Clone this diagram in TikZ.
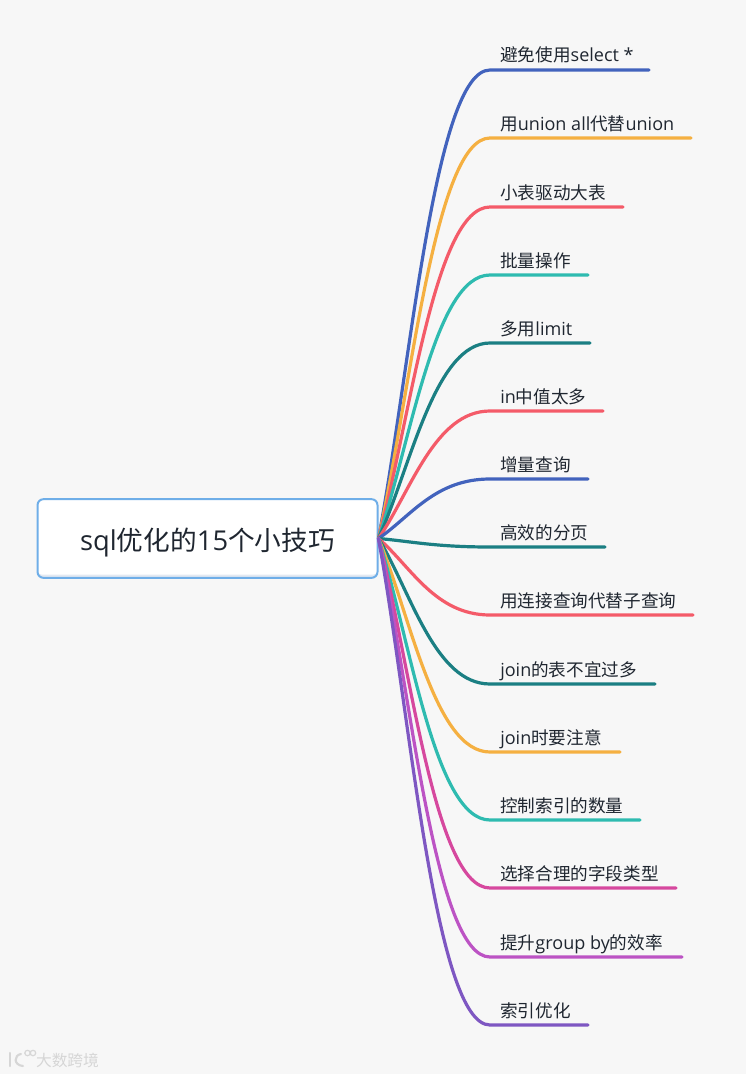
\documentclass[tikz,border=0pt]{standalone}
\usepackage{fontspec}
\usepackage{xcolor}
\usepackage{tikz}
\usetikzlibrary{calc}
\setmainfont{Open Sans}[Scale=1.025]
\newfontfamily\cjk{Noto Sans CJK SC}

\definecolor{pagegray}{HTML}{F7F7F7}
\definecolor{rootblue}{HTML}{6FAEE8}
\definecolor{rootshade}{HTML}{E3E9F2}
\definecolor{inkdark}{HTML}{1F2630}
\definecolor{markgray}{HTML}{D6D6D6}
\definecolor{cblue}{HTML}{4263BD}
\definecolor{corange}{HTML}{F5B041}
\definecolor{cred}{HTML}{F45B69}
\definecolor{cteal}{HTML}{2EBBB0}
\definecolor{cdeep}{HTML}{1B7F83}
\definecolor{cpink}{HTML}{D6489E}
\definecolor{cviolet}{HTML}{BC53C4}
\definecolor{cpurple}{HTML}{7E57C2}

\tikzset{
    rootbox/.style={draw=rootblue, line width=1.5pt, rounded corners=4.5pt, fill=rootshade,
        minimum width=255pt, minimum height=59pt, text=inkdark, font=\fontsize{20}{24}\selectfont,
        text height=21pt, text depth=3pt,
        path picture={\fill[white, rounded corners=3pt] (path picture bounding box.north west) rectangle ([yshift=2.5pt]path picture bounding box.south east);}},
    leaf/.style={anchor=base west, inner sep=0pt, text=inkdark, font=\fontsize{13.2}{16}\selectfont},
    branch/.style={line width=2.4pt, line cap=round}
}

\begin{document}
\begin{tikzpicture}[x=0.75pt, y=-0.75pt]
    \useasboundingbox[fill=pagegray] (0,0) rectangle (746,1074);
    % Central topic
    \node[rootbox] (root) at (207.5,538.5) {sql{\cjk 优化的}15{\cjk 个小技巧}};
    % Branches and their labels
    \foreach \n/\y/\xe/\col/\txt in {
        1/70/649/cblue/{\cjk 避免使用}select *,
        2/138/691/corange/{\cjk 用}union all{\cjk 代替}union,
        3/207/623/cred/{\cjk 小表驱动大表},
        4/275/588/cteal/{\cjk 批量操作},
        5/343/590/cdeep/{\cjk 多用}limit,
        6/411/603/cred/in{\cjk 中值太多},
        7/479/588/cblue/{\cjk 增量查询},
        8/547/605/cdeep/{\cjk 高效的分页},
        9/615/693/cred/{\cjk 用连接查询代替子查询},
        10/684/655/cdeep/join{\cjk 的表不宜过多},
        11/752/620/corange/join{\cjk 时要注意},
        12/820/640/cteal/{\cjk 控制索引的数量},
        13/888/676/cpink/{\cjk 选择合理的字段类型},
        14/957/682/cviolet/{\cjk 提升}group by{\cjk 的效率},
        15/1025/588/cpurple/{\cjk 索引优化}} {
        \node[leaf] (leaf\n) at (500,\y-8) {\txt};
        \coordinate (turn\n) at (490,\y);
        \coordinate (end\n) at (\xe,\y);
        \draw[branch, draw=\col] (root.east) .. controls (411,{538+0.37*(\y-538)}) and (435,\y) .. (turn\n) -- (end\n);
    }
    % Watermark
    \draw[markgray, line width=1.6pt, line cap=round] (10,1053) -- (10,1066);
    \draw[markgray, line width=1.6pt, line cap=round] (21,1054) .. controls (14,1055) and (13,1065) .. (23,1066);
    \draw[markgray, line width=0.9pt] (27.5,1053) circle (2.7) (33,1053) circle (2.7);
    \node[inner sep=0pt, text=markgray, font=\cjk\fontsize{11.8}{14}\selectfont] (mark) at (67.5,1060) {大数跨境};
\end{tikzpicture}
\end{document}
